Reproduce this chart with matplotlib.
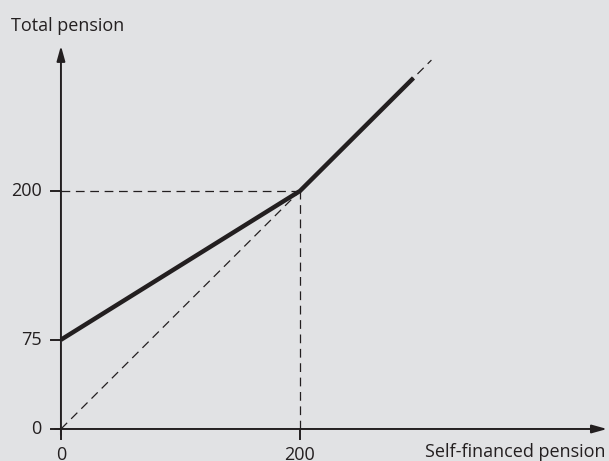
import matplotlib
matplotlib.use("Agg")
import matplotlib.pyplot as plt

plt.rcParams['font.family'] = ['Open Sans', 'DejaVu Sans']

# data
pension_x = [0, 200, 295]
pension_y = [75, 200, 295]
diag = [0, 310]
xticks = [0, 200]
yticks = [0, 75, 200]
ink = '#231f20'
bg = '#e1e2e4'

fig = plt.figure(figsize=(6.09, 4.61), dpi=100, facecolor=bg)
ax = fig.add_axes([0, 0, 1, 1])
ax.set_facecolor(bg)
ax.set_xlim(-51, 458.6)
ax.set_ylim(-26.9, 360.5)
ax.axis('off')

dash = (0, (7, 4.5))
# dashed guides
ax.plot(diag, diag, color=ink, lw=0.9, ls=dash)
ax.plot([0, 200], [200, 200], color=ink, lw=0.9, ls=dash)
ax.plot([200, 200], [0, 200], color=ink, lw=0.9, ls=dash)

# total pension
ax.plot(pension_x, pension_y, color=ink, lw=3.2, solid_capstyle='butt')

# axes with arrows
arrow = dict(arrowstyle='-|>,head_length=0.9,head_width=0.25', color=ink, lw=1.4, shrinkA=0, shrinkB=0)
ax.annotate('', xy=(0, 322), xytext=(0, -5), arrowprops=arrow)
ax.annotate('', xy=(457, 0), xytext=(-5, 0), arrowprops=arrow)

# ticks
for v in yticks:
    ax.plot([-8.5, 0], [v, v], color=ink, lw=1.4)
    ax.text(-16, v, str(v), ha='right', va='center', fontsize=13, color=ink)
for v in xticks:
    ax.plot([v, v], [0, -8.5], color=ink, lw=1.4)
    ax.text(v, -14, str(v), ha='center', va='top', fontsize=13, color=ink)

ax.text(-41.5, 339, 'Total pension', ha='left', va='center', fontsize=13, color=ink)
ax.text(456, -19, 'Self-financed pension', ha='right', va='center', fontsize=13, color=ink)

fig.savefig('out.png', dpi=100, facecolor=bg)
